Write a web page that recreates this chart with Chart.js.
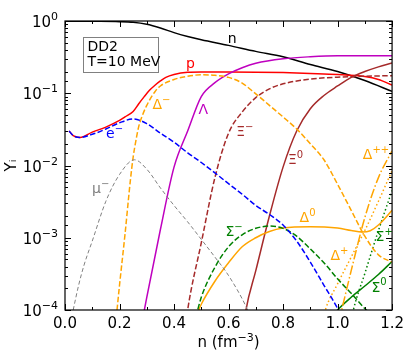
<!DOCTYPE html>
<html>
<head>
<meta charset="utf-8">
<title>DD2 T=10 MeV</title>
<script src="https://cdn.jsdelivr.net/npm/chart.js@4/dist/chart.umd.min.js"></script>
<style>
  html, body { margin: 0; padding: 0; background: #fff; }
</style>
</head>
<body>
<canvas id="chart" width="409" height="354"></canvas>
<script>
// x ticks (fm^-3)
const xTicks = [0.0, 0.2, 0.4, 0.6, 0.8, 1.0, 1.2];
// y decades
const yDecades = [1e-4, 1e-3, 1e-2, 1e-1, 1];

// neutrons
const nN = [0.02, 0.1, 0.2, 0.25, 0.3, 0.35, 0.4, 0.45, 0.5, 0.6, 0.7, 0.8, 0.9, 1.0, 1.1, 1.2];
const yN = [0.995, 0.99, 0.98, 0.96, 0.9, 0.8, 0.69, 0.61, 0.55, 0.46, 0.38, 0.32, 0.25, 0.2, 0.15, 0.106];
// protons
const nP = [0.015, 0.03, 0.055, 0.1, 0.15, 0.2, 0.22, 0.25, 0.27, 0.29, 0.31, 0.33, 0.35, 0.37, 0.4, 0.45, 0.5, 0.6, 0.7, 0.8, 0.9, 1.0, 1.1, 1.15, 1.2];
const yP = [0.030, 0.026, 0.0245, 0.029, 0.034, 0.042, 0.047, 0.056, 0.071, 0.089, 0.11, 0.129, 0.148, 0.166, 0.182, 0.195, 0.197, 0.197, 0.196, 0.193, 0.188, 0.182, 0.17, 0.155, 0.13];
// electrons
const nE = [0.015, 0.03, 0.055, 0.1, 0.15, 0.2, 0.25, 0.3, 0.35, 0.4, 0.45, 0.5, 0.55, 0.6, 0.65, 0.7, 0.75, 0.8, 0.85, 0.9, 0.95, 1.0, 1.03];
const yE = [0.030, 0.026, 0.0245, 0.027, 0.032, 0.039, 0.044, 0.038, 0.028, 0.021, 0.015, 0.011, 0.0079, 0.0056, 0.004, 0.0028, 0.0021, 0.0015, 0.0009, 0.00046, 0.00022, 0.000105, 0.00006];
// muons
const nMu = [0.03, 0.05, 0.07, 0.1, 0.15, 0.2, 0.255, 0.3, 0.35, 0.4, 0.45, 0.5, 0.55, 0.6, 0.665, 0.68];
const yMu = [1e-4, 2.2e-4, 4.2e-4, 9e-4, 0.0032, 0.0075, 0.012, 0.0089, 0.0049, 0.0028, 0.00166, 0.00095, 5.4e-4, 3.0e-4, 1.1e-4, 8e-5];
// Delta-
const nDm = [0.185, 0.2, 0.22, 0.24, 0.25, 0.26, 0.27, 0.28, 0.3, 0.33, 0.35, 0.4, 0.45, 0.5, 0.55, 0.6, 0.65, 0.7, 0.75, 0.8, 0.85, 0.9, 0.95, 1.0, 1.05, 1.1, 1.15, 1.2];
const yDm = [6e-5, 2.2e-4, 1.1e-3, 0.0063, 0.013, 0.022, 0.034, 0.045, 0.068, 0.105, 0.126, 0.155, 0.172, 0.18, 0.177, 0.166, 0.138, 0.098, 0.068, 0.047, 0.032, 0.02, 0.012, 0.0055, 0.0024, 0.00105, 0.00058, 0.00046];
// Lambda
const nL = [0.28, 0.3, 0.35, 0.4, 0.45, 0.5, 0.55, 0.6, 0.65, 0.7, 0.8, 0.9, 1.0, 1.1, 1.2];
const yL = [6e-5, 1.5e-4, 0.0013, 0.0095, 0.03, 0.09, 0.14, 0.185, 0.225, 0.26, 0.3, 0.32, 0.33, 0.33, 0.33];
// Xi-
const nXm = [0.44, 0.45, 0.5, 0.55, 0.6, 0.65, 0.7, 0.75, 0.8, 0.9, 1.0, 1.1, 1.2];
const yXm = [5e-5, 1e-4, 8.5e-4, 0.0068, 0.028, 0.055, 0.087, 0.115, 0.135, 0.157, 0.167, 0.172, 0.175];
// Xi0
const nX0 = [0.65, 0.664, 0.7, 0.75, 0.8, 0.85, 0.9, 0.95, 1.0, 1.05, 1.1, 1.15, 1.2];
const yX0 = [4e-5, 1e-4, 3.5e-4, 0.002, 0.0095, 0.030, 0.061, 0.093, 0.126, 0.166, 0.2, 0.232, 0.263];
// Sigma-
const nSm = [0.48, 0.5, 0.55, 0.6, 0.65, 0.7, 0.75, 0.8, 0.85, 0.9, 0.95, 1.0, 1.05, 1.1, 1.12];
const ySm = [8e-5, 1.5e-4, 3.9e-4, 7.5e-4, 1.1e-3, 1.35e-3, 1.45e-3, 1.35e-3, 1.05e-3, 7e-4, 4.5e-4, 2.7e-4, 1.7e-4, 1.05e-4, 9e-5];
// Delta0
const nD0 = [0.48, 0.5, 0.55, 0.6, 0.65, 0.7, 0.75, 0.8, 0.9, 1.0, 1.05, 1.09, 1.12, 1.15, 1.2];
const yD0 = [8e-5, 1.2e-4, 2.5e-4, 4.5e-4, 7.5e-4, 1.0e-3, 1.22e-3, 1.36e-3, 1.42e-3, 1.36e-3, 1.26e-3, 1.2e-3, 1.25e-3, 1.5e-3, 2.4e-3];
// Delta+
const nDp = [0.945, 0.955, 1.0, 1.05, 1.1, 1.15, 1.2];
const yDp = [7e-5, 1e-4, 2.3e-4, 5.4e-4, 1.26e-3, 3.2e-3, 8.5e-3];
// Delta++
const nDpp = [1.005, 1.015, 1.05, 1.1, 1.15, 1.2];
const yDpp = [7e-5, 1e-4, 3.5e-4, 1.9e-3, 6.8e-3, 0.016];
// Sigma+
const nSp = [1.05, 1.058, 1.1, 1.15, 1.2];
const ySp = [7e-5, 1e-4, 3.2e-4, 1.26e-3, 4.5e-3];
// Sigma0
const nS0 = [0.99, 1.0, 1.05, 1.1, 1.15, 1.2];
const yS0 = [9e-5, 1e-4, 1.5e-4, 2.15e-4, 3.1e-4, 4.7e-4];

const ORANGE = '#ffa500', BROWN = '#a52a2a', GREEN = '#008000', MAGENTA = '#bf00bf';

// text next to the curves (n, Y), ^{..} = superscript
const curveLabels = [
  { text: 'n', n: 0.613, y: 0.58, color: '#000' },
  { text: 'p', n: 0.46, y: 0.26, color: '#ff0000' },
  { text: 'Δ^{−}', n: 0.354, y: 0.071, color: ORANGE },
  { text: 'Λ', n: 0.507, y: 0.0605, color: MAGENTA },
  { text: 'e^{−}', n: 0.182, y: 0.028, color: '#0000ff' },
  { text: 'μ^{−}', n: 0.131, y: 0.0049, color: '#808080' },
  { text: 'Ξ^{−}', n: 0.66, y: 0.030, color: BROWN },
  { text: 'Ξ^{0}', n: 0.846, y: 0.0123, color: BROWN },
  { text: 'Δ^{++}', n: 1.141, y: 0.0144, color: ORANGE },
  { text: 'Δ^{0}', n: 0.89, y: 0.00194, color: ORANGE },
  { text: 'Σ^{−}', n: 0.62, y: 0.00124, color: GREEN },
  { text: 'Δ^{+}', n: 1.007, y: 0.00058, color: ORANGE },
  { text: 'Σ^{+}', n: 1.171, y: 0.00106, color: GREEN },
  { text: 'Σ^{0}', n: 1.152, y: 0.00021, color: GREEN }
];
const boxLines = ['DD2', 'T=10 MeV'];
const xTitle = 'n (fm^{−3})';

const isDecade = v => yDecades.some(d => Math.abs(v / d - 1) < 1e-6);

// split 'Δ^{++}' into [{t:'Δ'},{t:'++',up:true}]
const parts = s => {
  const out = [];
  s.split(/(\^\{[^}]*\})/).forEach(p => {
    if (!p) return;
    if (p.startsWith('^{')) out.push({ t: p.slice(2, -1), up: true });
    else out.push({ t: p, up: false });
  });
  return out;
};

// draw text with raised exponent, align: 'left' | 'center' | 'right', y = middle of base text
const drawMath = (ctx, s, x, y, size, align) => {
  const segs = parts(s);
  const fBase = size + 'px "DejaVu Sans"', fUp = Math.round(size * 0.72) + 'px "DejaVu Sans"';
  let total = 0;
  segs.forEach(g => { ctx.font = g.up ? fUp : fBase; g.w = ctx.measureText(g.t).width; total += g.w; });
  let cx = align === 'center' ? x - total / 2 : align === 'right' ? x - total : x;
  const base = y + size * 0.36;
  ctx.textAlign = 'left';
  ctx.textBaseline = 'alphabetic';
  segs.forEach(g => {
    ctx.font = g.up ? fUp : fBase;
    ctx.fillText(g.t, cx, g.up ? base - size * 0.45 : base);
    cx += g.w;
  });
};

// build one line dataset
const series = (label, ns, ys, color, dash, width) => ({
  label: label,
  data: ns.map((n, i) => ({ x: n, y: ys[i] })),
  borderColor: color,
  borderDash: dash || [],
  borderWidth: width || 1.5,
  pointRadius: 0,
  fill: false,
  cubicInterpolationMode: 'monotone'
});

const DASH = [5.5, 2.4], DOT = [1.5, 2.5], DASHDOT = [9.6, 2.4, 1.5, 2.4];

// inward ticks on all four sides, frame, y tick labels
const frameTicks = {
  id: 'frameTicks',
  afterDraw: chart => {
    const { ctx, chartArea: a, scales: { x, y } } = chart;
    ctx.save();
    ctx.strokeStyle = '#000';
    ctx.lineWidth = 1;
    const seg = (x1, y1, x2, y2) => { ctx.beginPath(); ctx.moveTo(x1, y1); ctx.lineTo(x2, y2); ctx.stroke(); };
    y.ticks.forEach(t => {
      const py = Math.round(y.getPixelForValue(t.value)) + 0.5;
      const major = isDecade(t.value);
      const len = major ? 6 : 3;
      seg(a.left, py, a.left + len, py);
      seg(a.right, py, a.right - len, py);
      if (major) {
        ctx.fillStyle = '#000';
        drawMath(ctx, '10^{' + String(Math.round(Math.log10(t.value))).replace('-', '−') + '}', a.left - 7, py, 15, 'right');
      }
    });
    x.ticks.forEach(t => {
      const px = Math.round(x.getPixelForValue(t.value)) + 0.5;
      const len = Math.round(t.value * 10) % 2 === 0 ? 6 : 3;
      seg(px, a.bottom, px, a.bottom - len);
      seg(px, a.top, px, a.top + len);
    });
    ctx.lineWidth = 1.2;
    ctx.strokeRect(a.left, a.top, a.right - a.left, a.bottom - a.top);
    // x axis title
    ctx.fillStyle = '#000';
    drawMath(ctx, xTitle, (a.left + a.right) / 2, 342, 15, 'center');
    ctx.restore();
  }
};

// curve names and the DD2 box
const annotations = {
  id: 'annotations',
  afterDatasetsDraw: chart => {
    const { ctx, chartArea: a, scales: { x, y } } = chart;
    ctx.save();
    curveLabels.forEach(l => {
      ctx.fillStyle = l.color;
      drawMath(ctx, l.text, x.getPixelForValue(l.n), y.getPixelForValue(l.y), 14, 'center');
    });
    // info box
    const bx = a.left + 18.5, by = a.top + 16.5;
    ctx.fillStyle = '#fff';
    ctx.fillRect(bx, by, 75, 35);
    ctx.strokeStyle = '#808080';
    ctx.lineWidth = 1;
    ctx.strokeRect(bx, by, 75, 35);
    ctx.fillStyle = '#000';
    ctx.textAlign = 'left';
    ctx.textBaseline = 'middle';
    ctx.font = '14px "DejaVu Sans"';
    boxLines.forEach((t, i) => ctx.fillText(t, bx + 4, by + 10 + i * 15));
    ctx.restore();
  }
};

Chart.defaults.font.family = '"DejaVu Sans", sans-serif';
Chart.defaults.color = '#000';

const chart = new Chart(document.getElementById('chart').getContext('2d'), {
  type: 'line',
  data: {
    datasets: [
      series('μ⁻', nMu, yMu, '#808080', [4, 2.5], 1),
      series('e⁻', nE, yE, '#0000ff', DASH),
      series('Δ⁻', nDm, yDm, ORANGE, DASH),
      series('Ξ⁻', nXm, yXm, BROWN, DASH),
      series('Σ⁻', nSm, ySm, GREEN, DASH),
      series('Δ⁰', nD0, yD0, ORANGE),
      series('Δ⁺', nDp, yDp, ORANGE, DOT),
      series('Δ⁺⁺', nDpp, yDpp, ORANGE, DASHDOT),
      series('Σ⁺', nSp, ySp, GREEN, DOT),
      series('Σ⁰', nS0, yS0, GREEN),
      series('Ξ⁰', nX0, yX0, BROWN),
      series('Λ', nL, yL, MAGENTA),
      series('p', nP, yP, '#ff0000'),
      series('n', nN, yN, '#000000')
    ]
  },
  options: {
    responsive: false,
    animation: false,
    layout: { padding: { left: 0, right: 15, top: 21, bottom: 0 } },
    plugins: { legend: { display: false }, tooltip: { enabled: false } },
    scales: {
      x: {
        type: 'linear',
        min: xTicks[0],
        max: xTicks[xTicks.length - 1],
        grid: { display: false, drawTicks: false },
        border: { display: false },
        ticks: {
          stepSize: 0.1,
          autoSkip: false,
          maxRotation: 0,
          padding: 5,
          font: { size: 15 },
          callback: v => (Math.round(v * 10) % 2 === 0 ? v.toFixed(1) : '')
        },
        afterFit: s => { s.height = 44; }
      },
      y: {
        type: 'logarithmic',
        min: yDecades[0],
        max: yDecades[yDecades.length - 1],
        grid: { display: false, drawTicks: false },
        border: { display: false },
        ticks: { autoSkip: false, callback: () => '' },
        title: { display: true, text: 'Yᵢ', font: { size: 15 }, padding: { top: 3, bottom: 0 } },
        afterFit: s => { s.width = 65; }
      }
    }
  },
  plugins: [annotations, frameTicks]
});
</script>
</body>
</html>
